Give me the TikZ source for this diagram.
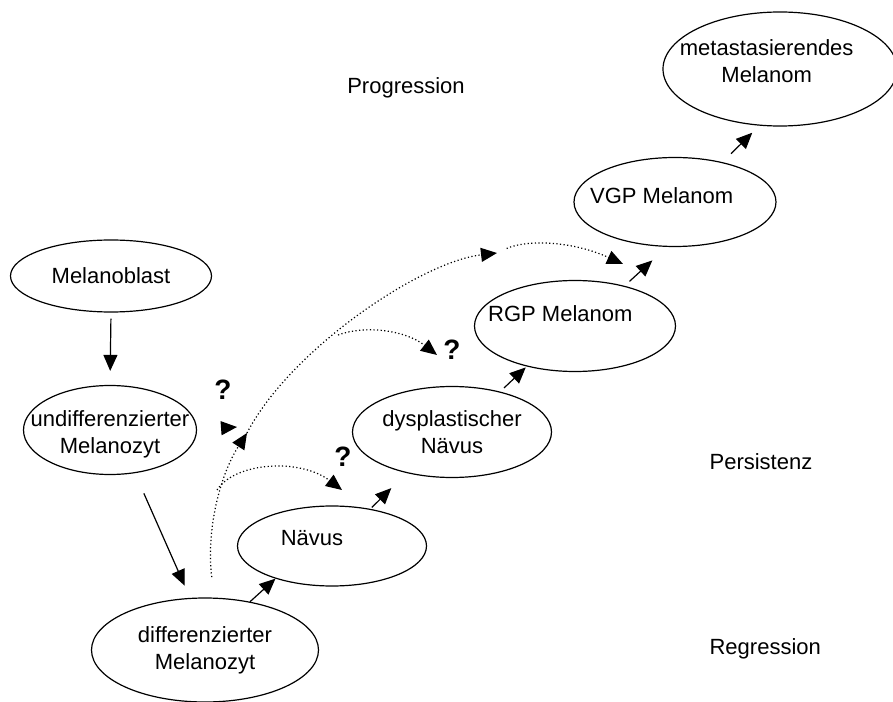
\documentclass[tikz,border=0pt]{standalone}
\usepackage{fontspec}
\setmainfont{Liberation Sans}
\usetikzlibrary{arrows.meta,shapes.geometric,positioning}

\tikzset{every picture/.style={line width=0.9pt}}
\tikzset{
  blob/.style={draw, ellipse, inner sep=0pt},
  lbl/.style={inner sep=0pt, align=center, font=\fontsize{16.5}{20}\selectfont},
  arr/.style={-{Triangle[length=12pt,width=10.5pt]}},
  dots/.style={dash pattern=on 0.9pt off 1.8pt, -{Triangle[length=12pt,width=10.5pt]}},
  qmark/.style={inner sep=0pt, font=\fontsize{21}{24}\selectfont\bfseries}
}

\begin{document}
\begin{tikzpicture}[x=0.75pt,y=0.75pt,yscale=-1,xscale=1]
\path[use as bounding box] (0,0) rectangle (893,702);

%Shape: Ellipse [mb]
\node[blob, minimum width=150.75pt, minimum height=54pt, label={[lbl]center:Melanoblast}] (mb) at (111,276) {};
%Shape: Ellipse [ud]
\node[blob, minimum width=129.75pt, minimum height=66.75pt, label={[lbl, yshift=-3pt]center:undifferenzierter\\Melanozyt}] (ud) at (110,430) {};
%Shape: Ellipse [diff]
\node[blob, minimum width=170.25pt, minimum height=78pt, label={[lbl]center:differenzierter\\Melanozyt}] (diff) at (205,650) {};
%Shape: Ellipse [nae]
\node[blob, minimum width=141.75pt, minimum height=60pt, label={[lbl, xshift=-15pt, yshift=6pt]center:Nävus}] (nae) at (332,546) {};
%Shape: Ellipse [dys]
\node[blob, minimum width=149.25pt, minimum height=68.25pt, label={[lbl]center:dysplastischer\\Nävus}] (dys) at (452,432) {};
%Shape: Ellipse [rgp]
\node[blob, minimum width=150.75pt, minimum height=68.25pt, label={[lbl, xshift=-11pt, yshift=9pt]center:RGP Melanom}] (rgp) at (575,326) {};
%Shape: Ellipse [vgp]
\node[blob, minimum width=151.5pt, minimum height=66.75pt, label={[lbl, xshift=-10pt, yshift=5pt]center:VGP Melanom}] (vgp) at (675,202) {};
%Shape: Ellipse [meta]
\node[blob, minimum width=175.5pt, minimum height=85.5pt, label={[lbl, xshift=-10pt, yshift=6pt]center:metastasierendes\\Melanom}] (meta) at (780,69) {};

%Straight Lines
\draw[arr, shorten <=4.5pt, shorten >=10.5pt] (mb.south) -- (ud.north);
\draw[arr, shorten <=16.5pt, shorten >=10pt] (ud.-60) -- (diff.106);
\draw[arr] (diff.47) -- (nae.210);
\draw[arr, shorten <=1.5pt, shorten >=16pt] (nae.44) -- (dys.222);
\draw[arr, shorten <=4pt, shorten >=1pt] (dys.40) -- (rgp.220);
\draw[arr, shorten <=5pt, shorten >=15pt] (rgp.39) -- (vgp.260);
\draw[arr, shorten <=9pt, shorten >=7.5pt] (vgp.40) -- (meta.250);

%Curve Lines
\coordinate (j0) at (237,427);
\coordinate (j1) at (247,433);
\coordinate (j2) at (497,253);
\coordinate (j3) at (623,264);
\coordinate (j4) at (437,355);
\coordinate (j5) at (342,490);
\coordinate (b4) at (338,335);
\coordinate (b5) at (217,490);
\draw[dots, shorten <=22pt] (ud.east) -- (j0);
\draw[dots] (j1) .. controls (290,350) and (420,262) .. (j2);
\draw[dots, shorten <=15.5pt] (diff.80) .. controls (206,530) and (220,475) .. (j1);
\draw[dots, shorten <=8pt] (j2) .. controls (525,240) and (570,240) .. (j3);
\draw[dots] (b4) .. controls (365,325) and (405,330) .. (j4);
\draw[dots] (b5) .. controls (235,462) and (300,458) .. (j5);

% Text Node
\node[qmark] (qa) at (223,390) {?};
% Text Node
\node[qmark] (qb) at (452,350) {?};
% Text Node
\node[qmark] (qc) at (343,457) {?};
% Text Node
\node[lbl] (prog) at (406,88) {Progression};
% Text Node
\node[lbl, anchor=west] (pers) at (709,462) {Persistenz};
% Text Node
\node[lbl, anchor=west] (regr) at (709,649) {Regression};
\end{tikzpicture}
\end{document}
